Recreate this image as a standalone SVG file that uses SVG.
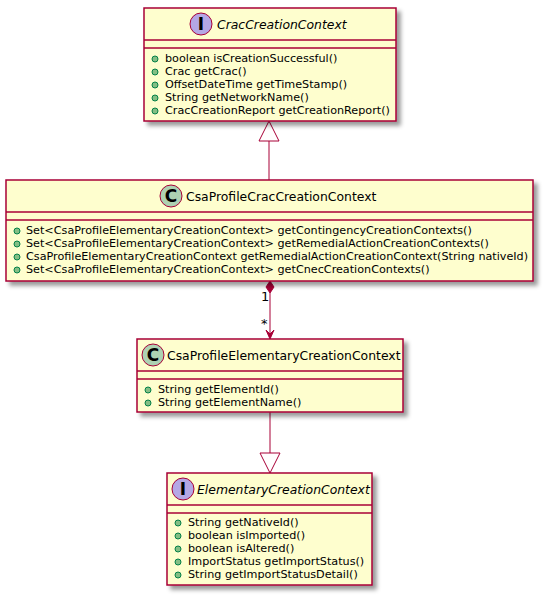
<svg xmlns="http://www.w3.org/2000/svg" width="544" height="595" viewBox="0 0 544 595">
<defs>
<filter id="sh" x="-1" y="-1" width="300%" height="300%">
<feGaussianBlur result="blur" stdDeviation="2"/>
<feColorMatrix type="matrix" in="blur" result="cm" values="0 0 0 0 0 0 0 0 0 0 0 0 0 0 0 0 0 0 .4 0"/>
<feOffset dx="4" dy="4" in="cm" result="off"/>
<feBlend in="SourceGraphic" in2="off" mode="normal"/>
</filter>
</defs>
<style>
.box{fill:#FEFECE;stroke:#A80036;stroke-width:1.5;filter:url(#sh)}
.sep{stroke:#A80036;stroke-width:1.5}
.ci{fill:#ADD1B2;stroke:#A80036;stroke-width:1}
.ii{fill:#B4A7E5;stroke:#A80036;stroke-width:1}
.lt{font-family:"DejaVu Sans",sans-serif;font-size:17px;font-weight:bold;fill:#000;text-anchor:middle}
.t{font-family:"DejaVu Sans",sans-serif;font-size:12.4px;fill:#000}
.ti{font-family:"DejaVu Sans",sans-serif;font-size:12.4px;font-style:italic;fill:#000}
.m{font-family:"DejaVu Sans",sans-serif;font-size:11.2px;fill:#000}
.v{fill:#84BE84;stroke:#038048;stroke-width:1}
.ln{stroke:#A80036;stroke-width:1;fill:none}
.lab{font-family:"DejaVu Sans",sans-serif;font-size:13px;fill:#000}
</style>
<g id="connectors">
<line class="ln" x1="269" y1="180" x2="269" y2="141"/>
<polygon points="269,121 279,141 259,141" fill="none" stroke="#A80036" stroke-width="1"/>
<line class="ln" x1="270" y1="293" x2="270" y2="337"/>
<polygon points="270,281 274,287 270,293 266,287" fill="#A80036" stroke="#A80036" stroke-width="1"/>
<polygon points="270,339 274,330 270,334 266,330" fill="#A80036" stroke="#A80036" stroke-width="1"/>
<text class="lab" x="261" y="301">1</text>
<text class="lab" x="261" y="328">*</text>
<line class="ln" x1="270" y1="412" x2="270" y2="453"/>
<polygon points="270,473 280,453 260,453" fill="none" stroke="#A80036" stroke-width="1"/>
</g>
<g id="CracCreationContext">
<rect class="box" x="144" y="8" width="252" height="113"/>
<ellipse class="ii" cx="201" cy="24" rx="11" ry="11"/>
<text class="lt" x="201" y="30">I</text>
<text class="ti" x="217" y="29">CracCreationContext</text>
<line class="sep" x1="144" y1="40" x2="396" y2="40"/>
<line class="sep" x1="144" y1="48" x2="396" y2="48"/>
<circle class="v" cx="155" cy="59" r="3"/><text class="m" x="165" y="62">boolean isCreationSuccessful()</text>
<circle class="v" cx="155" cy="72" r="3"/><text class="m" x="165" y="75">Crac getCrac()</text>
<circle class="v" cx="155" cy="85" r="3"/><text class="m" x="165" y="88">OffsetDateTime getTimeStamp()</text>
<circle class="v" cx="155" cy="98" r="3"/><text class="m" x="165" y="101">String getNetworkName()</text>
<circle class="v" cx="155" cy="111" r="3"/><text class="m" x="165" y="114">CracCreationReport getCreationReport()</text>
</g>
<g id="CsaProfileCracCreationContext">
<rect class="box" x="6" y="180" width="527" height="101"/>
<ellipse class="ci" cx="171" cy="196" rx="11" ry="11"/>
<text class="lt" x="171" y="202">C</text>
<text class="t" x="186" y="201">CsaProfileCracCreationContext</text>
<line class="sep" x1="6" y1="212" x2="533" y2="212"/>
<line class="sep" x1="6" y1="220" x2="533" y2="220"/>
<circle class="v" cx="17" cy="231" r="3"/><text class="m" x="26" y="234">Set&lt;CsaProfileElementaryCreationContext&gt; getContingencyCreationContexts()</text>
<circle class="v" cx="17" cy="244" r="3"/><text class="m" x="26" y="247">Set&lt;CsaProfileElementaryCreationContext&gt; getRemedialActionCreationContexts()</text>
<circle class="v" cx="17" cy="257" r="3"/><text class="m" x="26" y="260">CsaProfileElementaryCreationContext getRemedialActionCreationContext(String nativeId)</text>
<circle class="v" cx="17" cy="270" r="3"/><text class="m" x="26" y="273">Set&lt;CsaProfileElementaryCreationContext&gt; getCnecCreationContexts()</text>
</g>
<g id="CsaProfileElementaryCreationContext">
<rect class="box" x="137" y="339" width="266" height="73"/>
<ellipse class="ci" cx="153" cy="355" rx="11" ry="11"/>
<text class="lt" x="153" y="361">C</text>
<text class="t" x="167" y="360">CsaProfileElementaryCreationContext</text>
<line class="sep" x1="137" y1="371" x2="403" y2="371"/>
<line class="sep" x1="137" y1="379" x2="403" y2="379"/>
<circle class="v" cx="148" cy="390" r="3"/><text class="m" x="158" y="393">String getElementId()</text>
<circle class="v" cx="148" cy="403" r="3"/><text class="m" x="158" y="406">String getElementName()</text>
</g>
<g id="ElementaryCreationContext">
<rect class="box" x="167" y="473" width="205" height="112"/>
<ellipse class="ii" cx="183" cy="489" rx="11" ry="11"/>
<text class="lt" x="183" y="495">I</text>
<text class="ti" x="197" y="494">ElementaryCreationContext</text>
<line class="sep" x1="167" y1="505" x2="372" y2="505"/>
<line class="sep" x1="167" y1="513" x2="372" y2="513"/>
<circle class="v" cx="178" cy="523" r="3"/><text class="m" x="188" y="526">String getNativeId()</text>
<circle class="v" cx="178" cy="536" r="3"/><text class="m" x="188" y="539">boolean isImported()</text>
<circle class="v" cx="178" cy="549" r="3"/><text class="m" x="188" y="552">boolean isAltered()</text>
<circle class="v" cx="178" cy="562" r="3"/><text class="m" x="188" y="565">ImportStatus getImportStatus()</text>
<circle class="v" cx="178" cy="575" r="3"/><text class="m" x="188" y="578">String getImportStatusDetail()</text>
</g>
</svg>
